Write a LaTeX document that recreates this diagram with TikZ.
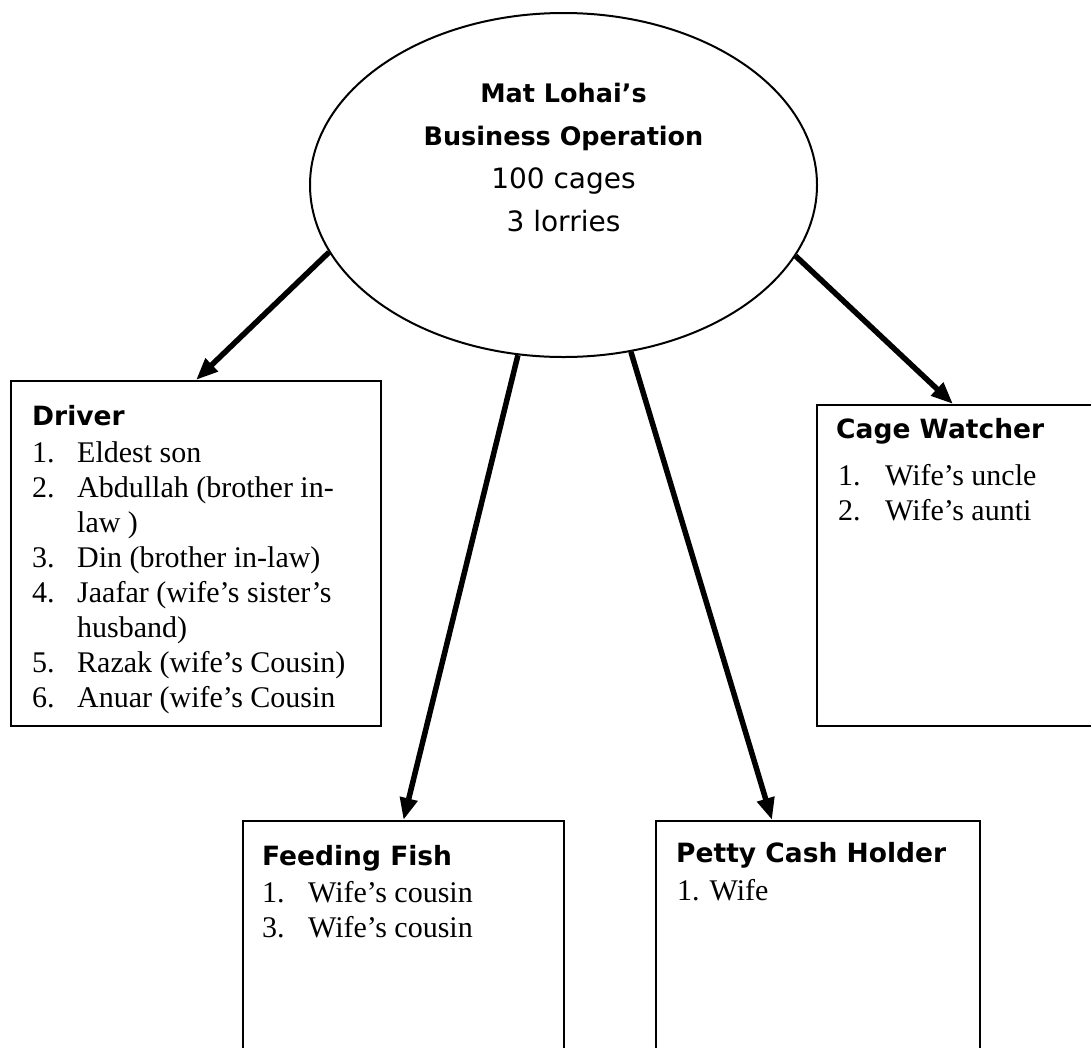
\documentclass[tikz,border=0pt]{standalone}
\usepackage{fontspec}
\setmainfont{Liberation Serif}
\newfontfamily\headfont{DejaVu Sans}
\usetikzlibrary{arrows.meta,shapes.geometric,calc}

\tikzset{
  frame/.style={draw, line width=2pt, rectangle, inner sep=0pt, anchor=north west},
  heading/.style={anchor=base west, inner sep=0pt, font=\headfont\bfseries\fontsize{26.5}{32}\selectfont},
  entries/.style={anchor=base west, inner sep=0pt, font=\fontsize{30}{35}\selectfont},
  link/.style={line width=5.5pt, -{Triangle[length=22pt,width=17pt]}},
}

\begin{document}
\begin{tikzpicture}[x=1pt,y=-1pt]
\clip (0,0) rectangle (1091,1047);
\fill[white] (0,0) rectangle (1091,1047);

% central oval
\node[draw, ellipse, line width=2pt, minimum width=507pt, minimum height=344pt, inner sep=0pt] (hub) at (563.5,185) {};
\node[anchor=base, inner sep=0pt, font=\headfont\fontsize{28}{43}\selectfont] (hubtext) at (563.5,102)
  {\begin{tabular}[t]{@{}c@{}}
   {\bfseries\fontsize{25.5}{43}\selectfont Mat Lohai’s}\\
   {\bfseries\fontsize{25.5}{43}\selectfont Business Operation}\\
   100 cages\\
   3 lorries
   \end{tabular}};

% role boxes
\node[frame, minimum width=370pt, minimum height=345pt] (driver) at (10,380) {};
\node[frame, minimum width=300pt, minimum height=321pt] (cage) at (816,404) {};
\node[frame, minimum width=321pt, minimum height=260pt] (feed) at (242,820) {};
\node[frame, minimum width=324pt, minimum height=260pt] (petty) at (655,820) {};

% driver
\node[heading] (driverhead) at (32,425) {Driver};
\node[entries] (driverlist) at (32,462)
  {\begin{tabular}[t]{@{}p{45pt}@{}l@{}}
   1. & Eldest son\\
   2. & Abdullah (brother in-\\
      & law )\\
   3. & Din (brother in-law)\\
   4. & Jaafar (wife’s sister’s\\
      & husband)\\
   5. & Razak (wife’s Cousin)\\
   6. & Anuar (wife’s Cousin
   \end{tabular}};

% cage watcher
\node[heading] (cagehead) at (836,438) {Cage Watcher};
\node[entries] (cagelist) at (838,485)
  {\begin{tabular}[t]{@{}p{47pt}@{}l@{}}
   1. & Wife’s uncle\\
   2. & Wife’s aunti
   \end{tabular}};

% feeding fish
\node[heading] (feedhead) at (262,865) {Feeding Fish};
\node[entries] (feedlist) at (262,902)
  {\begin{tabular}[t]{@{}p{46pt}@{}l@{}}
   1. & Wife’s cousin\\
   3. & Wife’s cousin
   \end{tabular}};

% petty cash holder
\node[heading] (pettyhead) at (676,862) {Petty Cash Holder};
\node[entries] (pettylist) at (677,900) {1. Wife};

% connectors
\draw[link] (hub.196.7) -- (driver.north);
\draw[link] (hub.255.3) -- (feed.north);
\draw[link] (hub.292.8) -- ($(petty.north west)+(117,0)$);
\draw[link] (hub.343.6) -- ($(cage.north west)+(137,0)$);
\end{tikzpicture}
\end{document}
